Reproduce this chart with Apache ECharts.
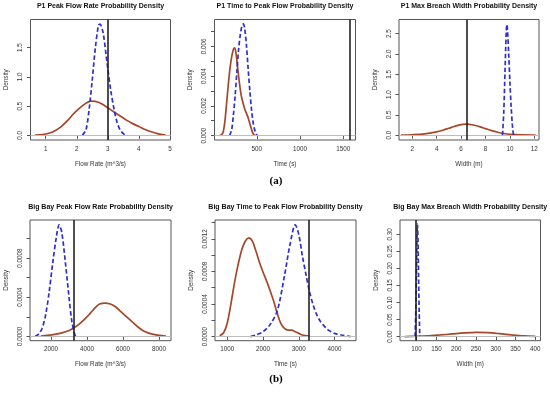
<!DOCTYPE html>
<html><head><meta charset="utf-8">
<script src="https://cdn.jsdelivr.net/npm/echarts@6/dist/echarts.min.js"></script>
<style>html,body{margin:0;padding:0;background:#fff}#c{width:550px;height:397px}</style>
</head><body><div id="c"></div>
<script>
// ---- text ----
const titles = [
  'P1 Peak Flow Rate Probability Density',
  'P1 Time to Peak Flow Probability Density',
  'P1 Max Breach Width Probability Density',
  'Big Bay Peak Flow Rate Probability Density',
  'Big Bay Time to Peak Flow Probability Density',
  'Big Bay Max Breach Width Probability Density'
];
const xNames = ['Flow Rate (m^3/s)', 'Time (s)', 'Width (m)', 'Flow Rate (m^3/s)', 'Time (s)', 'Width (m)'];
const yName = 'Density';
const panelLabels = ['(a)', '(b)'];

// ---- ticks ----
const xTicks = [
  [1, 2, 3, 4, 5],
  [500, 1000, 1500],
  [2, 4, 6, 8, 10, 12],
  [2000, 4000, 6000, 8000],
  [1000, 2000, 3000, 4000],
  [100, 150, 200, 250, 300, 350, 400]
];
const yTicks = [
  [0, 0.5, 1.0, 1.5],
  [0, 0.001, 0.002, 0.003, 0.004, 0.005, 0.006, 0.007],
  [0, 0.5, 1.0, 1.5, 2.0, 2.5],
  [0, 0.0002, 0.0004, 0.0006, 0.0008, 0.0010],
  [0, 0.0002, 0.0004, 0.0006, 0.0008, 0.0010, 0.0012, 0.0014],
  [0, 0.05, 0.10, 0.15, 0.20, 0.25, 0.30]
];
const yTickLabels = [
  [0, 0.5, 1.0, 1.5],
  [0, 0.002, 0.004, 0.006],
  [0, 0.5, 1.0, 1.5, 2.0, 2.5],
  [0, 0.0004, 0.0008],
  [0, 0.0004, 0.0008, 0.0012],
  [0, 0.05, 0.10, 0.15, 0.20, 0.25, 0.30]
];
const yDecimals = [1, 3, 1, 4, 4, 2];

// ---- axis ranges ----
const xMin = [0.51, 11, 0.92, 830, 655, 58];
const xMax = [5.02, 1642, 12.38, 8670, 4600, 413];
const yMin = [-0.08, -0.0003, -0.12, -0.000045, -0.00005, -0.012];
const yMax = [1.98, 0.0078, 2.85, 0.00119, 0.00143, 0.342];

// ---- observed values (vertical lines) ----
const observed = [3.0, 1575, 6.45, 3260, 3290, 97];

// ---- densities: brown solid ----
const p1FlowSolid = [[0.66,0.003],[0.9,0.012],[1.1,0.035],[1.3,0.08],[1.5,0.15],[1.7,0.25],[1.9,0.37],[2.1,0.47],[2.3,0.55],[2.45,0.585],[2.6,0.58],[2.8,0.54],[3.0,0.47],[3.2,0.40],[3.4,0.33],[3.6,0.26],[3.8,0.2],[4.0,0.15],[4.2,0.1],[4.4,0.06],[4.6,0.03],[4.86,0.005]];
const p1TimeSolid = [[70,0],[90,0.00005],[110,0.0002],[130,0.0009],[150,0.0021],[170,0.0034],[190,0.0045],[210,0.0053],[230,0.0058],[245,0.0059],[260,0.0055],[280,0.0045],[300,0.0035],[320,0.0027],[340,0.0022],[360,0.0018],[380,0.0015],[400,0.0012],[420,0.0008],[440,0.0004],[460,0.0001],[480,0]];
const p1WidthSolid = [[1.1,0.002],[2,0.01],[3,0.03],[4,0.08],[4.5,0.12],[5,0.17],[5.5,0.22],[6,0.26],[6.4,0.27],[7,0.25],[7.5,0.21],[8,0.16],[8.5,0.11],[9,0.07],[9.5,0.04],[10,0.02],[11,0.005],[12.1,0.001]];
const bbFlowSolid = [[1430,0.000003],[1800,0.00001],[2200,0.00002],[2600,0.000035],[3000,0.00006],[3300,0.00009],[3600,0.00013],[3900,0.00018],[4200,0.00024],[4500,0.00030],[4700,0.00033],[5000,0.00034],[5300,0.00033],[5600,0.00030],[5900,0.00025],[6200,0.00020],[6500,0.00015],[6800,0.00010],[7100,0.00006],[7400,0.000035],[7700,0.00002],[8000,0.00001],[8387,0.000002]];
const bbTimeSolid = [[790,0.00001],[900,0.00005],[1000,0.00017],[1100,0.0004],[1200,0.00066],[1300,0.00088],[1400,0.00106],[1500,0.00117],[1600,0.00121],[1700,0.00117],[1800,0.00105],[1900,0.00091],[2000,0.00079],[2100,0.00068],[2200,0.00056],[2300,0.00043],[2400,0.00028],[2500,0.00016],[2600,0.0001],[2700,0.00008],[2800,0.00008],[2900,0.00006],[3000,0.00004],[3100,0.00002],[3300,0.000005]];
const bbWidthSolid = [[70,0.0002],[100,0.001],[130,0.0025],[160,0.0048],[190,0.0078],[220,0.0108],[250,0.0125],[280,0.0115],[310,0.0085],[340,0.005],[370,0.002],[400,0.0005]];

// ---- densities: blue dashed ----
const p1FlowDashed = [[2.18,0],[2.3,0.1],[2.4,0.45],[2.5,0.95],[2.6,1.5],[2.7,1.88],[2.75,1.9],[2.85,1.75],[2.95,1.35],[3.0,1.14],[3.1,0.75],[3.2,0.45],[3.3,0.22],[3.4,0.09],[3.5,0.03],[3.58,0]];
const p1TimeDashed = [[185,0],[210,0.0004],[230,0.0014],[250,0.0027],[270,0.0043],[290,0.0058],[310,0.0068],[330,0.0074],[345,0.0075],[360,0.0072],[380,0.0061],[400,0.0045],[420,0.003],[440,0.0017],[460,0.0008],[480,0.0003],[505,0]];
const p1WidthDashed = [[9.39,0],[9.5,0.6],[9.6,1.6],[9.7,2.55],[9.75,2.73],[9.8,2.6],[9.9,2.0],[10.0,1.3],[10.1,0.7],[10.2,0.25],[10.29,0]];
const bbFlowDashed = [[1115,0],[1300,0.00002],[1500,0.00008],[1700,0.00022],[1900,0.00046],[2100,0.00076],[2300,0.00102],[2450,0.00114],[2600,0.00106],[2800,0.00075],[3000,0.0004],[3150,0.00016],[3300,0.00003],[3370,0]];
const bbTimeDashed = [[1650,0],[1800,0.00002],[2000,0.00006],[2200,0.00015],[2400,0.00032],[2600,0.00075],[2750,0.00112],[2900,0.00137],[3000,0.00125],[3100,0.00099],[3200,0.00076],[3300,0.00055],[3400,0.00039],[3500,0.00027],[3600,0.00019],[3800,0.00009],[4000,0.00004],[4200,0.00002],[4450,0]];
const bbWidthDashed = [[96,0],[98,0.08],[100,0.22],[102,0.33],[103.5,0.28],[105,0.17],[106.5,0.07],[108,0]];

const solids = [p1FlowSolid, p1TimeSolid, p1WidthSolid, bbFlowSolid, bbTimeSolid, bbWidthSolid];
const dashes = [p1FlowDashed, p1TimeDashed, p1WidthDashed, bbFlowDashed, bbTimeDashed, bbWidthDashed];

// ---- layout ----
const gLeft = [30.5, 214.5, 399, 30, 215, 400];
const gWidth = [140, 141, 140, 141, 141, 140.5];
const gTop = [19.5, 19.5, 19.5, 220, 220, 220];
const gHeight = [120.5, 120.5, 120.5, 120.7, 120.7, 120.7];
const titleTop = [2.5, 2.5, 2.5, 203.5, 203.5, 203.5];

const FONT = 'Liberation Sans, Arial, sans-serif';
const AX = '#555';
const TXT = '#333';
const BROWN = '#A5472A';
const BLUE = '#2F2FD0';

const grid = [], xAxis = [], yAxis = [], series = [], title = [];
for (let i = 0; i < 6; i++) {
  grid.push({left: gLeft[i], top: gTop[i], width: gWidth[i], height: gHeight[i], show: true,
    borderColor: AX, borderWidth: 1, backgroundColor: 'transparent', containLabel: false});
  title.push({text: titles[i], left: gLeft[i] + gWidth[i] / 2, top: titleTop[i], textAlign: 'center', padding: 0,
    textStyle: {fontSize: 7, fontWeight: 'bold', fontFamily: FONT, color: '#111'}});
  xAxis.push({type: 'value', gridIndex: i, min: xMin[i], max: xMax[i],
    name: xNames[i], nameLocation: 'middle', nameGap: 21,
    nameTextStyle: {fontSize: 6.3, fontFamily: FONT, color: TXT},
    axisLine: {show: false}, splitLine: {show: false},
    axisTick: {show: true, length: 3.5, lineStyle: {color: AX}, customValues: xTicks[i]},
    axisLabel: {fontSize: 6.3, fontFamily: FONT, color: TXT, margin: 6, customValues: xTicks[i],
      formatter: v => String(v)}});
  const d = yDecimals[i];
  yAxis.push({type: 'value', gridIndex: i, min: yMin[i], max: yMax[i],
    name: yName, nameLocation: 'middle', nameGap: 21, nameRotate: 90,
    nameTextStyle: {fontSize: 6.3, fontFamily: FONT, color: TXT},
    axisLine: {show: false}, splitLine: {show: false},
    axisTick: {show: true, length: 3.5, lineStyle: {color: AX}, customValues: yTicks[i]},
    axisLabel: {fontSize: 6.3, fontFamily: FONT, color: TXT, margin: 7, rotate: 90, customValues: yTickLabels[i],
      formatter: v => Number(v).toFixed(d)}});
  series.push({type: 'line', xAxisIndex: i, yAxisIndex: i, data: solids[i], symbol: 'none', smooth: 0.3,
    lineStyle: {color: BROWN, width: 1.7}, z: 3, animation: false,
    markLine: {symbol: 'none', silent: true, animation: false, label: {show: false},
      data: [{yAxis: 0, lineStyle: {color: '#bdbdbd', width: 1, type: 'solid'}}]}});
  series.push({type: 'line', xAxisIndex: i, yAxisIndex: i, data: dashes[i], symbol: 'none', smooth: 0.3,
    lineStyle: {color: BLUE, width: 1.7, type: [4.5, 2.5]}, z: 4, animation: false,
    markLine: {symbol: 'none', silent: true, animation: false, label: {show: false},
      data: [{xAxis: observed[i], lineStyle: {color: '#222', width: 1.6, type: 'solid'}}]}});
}
title.push({text: panelLabels[0], left: 276, top: 176, textAlign: 'center', padding: 0,
  textStyle: {fontSize: 11, fontFamily: 'Liberation Serif, Times New Roman, serif', fontWeight: 'bold', color: '#000'}});
title.push({text: panelLabels[1], left: 276, top: 374, textAlign: 'center', padding: 0,
  textStyle: {fontSize: 11, fontFamily: 'Liberation Serif, Times New Roman, serif', fontWeight: 'bold', color: '#000'}});

const chart = echarts.init(document.getElementById('c'), null, {renderer: 'canvas'});
chart.setOption({animation: false, backgroundColor: '#fff', title, grid, xAxis, yAxis, series});
</script>
</body></html>
